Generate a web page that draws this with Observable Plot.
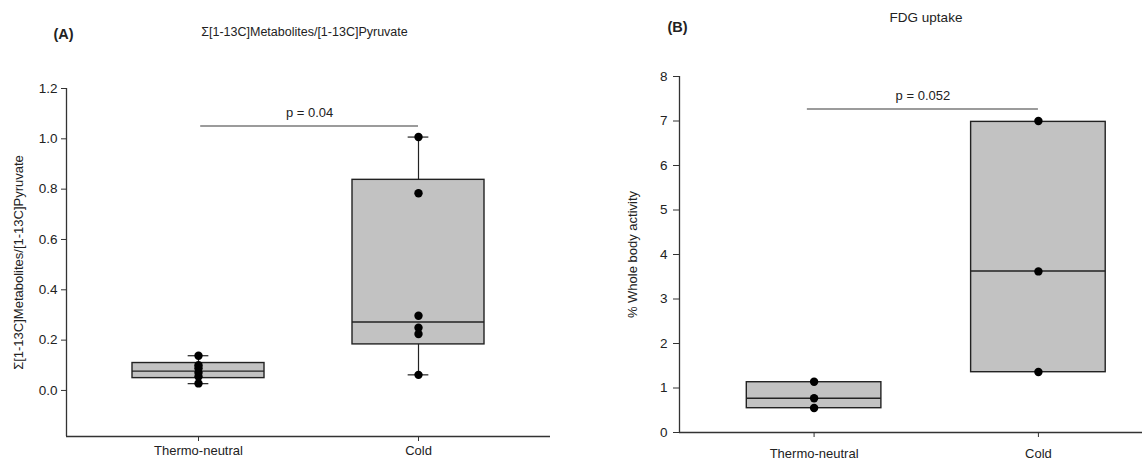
<!DOCTYPE html>
<html><head><meta charset="utf-8">
<script src="https://cdn.jsdelivr.net/npm/d3@7"></script>
<script src="https://cdn.jsdelivr.net/npm/@observablehq/plot@0.6"></script>
<style>
html,body{margin:0;padding:0;background:#fff;}
#wrap{position:relative;width:1142px;height:461px;overflow:hidden;font-family:"Liberation Sans",Arial,Helvetica,sans-serif;}
#wrap svg{position:absolute;top:0;}
</style></head><body><div id="wrap"></div>
<script>
// ---- shared categories ----
const groups = ["Thermo-neutral", "Cold"];

// ---- Panel A data ----
const aTitle = "Σ[1-13C]Metabolites/[1-13C]Pyruvate";
const aYLabel = "Σ[1-13C]Metabolites/[1-13C]Pyruvate";
const aThermoPoints = [0.138, 0.100, 0.088, 0.070, 0.055, 0.028];
const aColdPoints = [1.007, 0.784, 0.297, 0.249, 0.224, 0.062];
const aQ1 = [0.049, 0.183];
const aMedian = [0.077, 0.272];
const aQ3 = [0.109, 0.837];
const aWhiskerLow = [0.027, 0.062];
const aWhiskerHigh = [0.138, 1.007];
const aYTicks = [0, 0.2, 0.4, 0.6, 0.8, 1.0, 1.2];
const aYDomain = [-0.183, 1.2];
const aPLabel = "p = 0.04";
const aPLineY = 1.051;
const aPLineX = [1.01, 2.0];

// ---- Panel B data ----
const bTitle = "FDG uptake";
const bYLabel = "% Whole body activity";
const bThermoPoints = [1.14, 0.77, 0.55];
const bColdPoints = [7.00, 3.62, 1.36];
const bQ1 = [0.546, 1.355];
const bMedian = [0.77, 3.63];
const bQ3 = [1.13, 6.98];
const bYTicks = [0, 1, 2, 3, 4, 5, 6, 7, 8];
const bYDomain = [0, 8];
const bPLabel = "p = 0.052";
const bPLineY = 7.27;
const bPLineX = [0.97, 2.0];

const FONT = '"Liberation Sans", Arial, Helvetica, sans-serif';
const INK = "#222";

function boxes(q1, med, q3, lo, hi) {
  return groups.map((g, k) => ({g, i: k + 1, q1: q1[k], median: med[k], q3: q3[k], lo: lo ? lo[k] : null, hi: hi ? hi[k] : null}));
}
function points(lists) {
  return lists.flatMap((vals, k) => vals.map(v => ({i: k + 1, v})));
}

function panel(o) {
  const half = 0.3, cap = 0.047;
  const marks = [
    Plot.ruleX([o.xDomain[0]], {y1: o.yDomain[0], y2: o.yDomain[1], stroke: "#333", strokeWidth: 1.3}),
    Plot.ruleY([o.yDomain[0]], {x1: o.xDomain[0], x2: o.xDomain[1], stroke: "#333", strokeWidth: 1.3}),
    Plot.axisY({ticks: o.yTicks, tickFormat: o.yFormat, tickSize: o.yTickSize, tickPadding: o.yTickPadding, label: null, fontSize: 13.5, stroke: "#333"}),
    Plot.axisX({ticks: [1, 2], tickFormat: i => groups[i - 1], tickSize: 5, tickPadding: o.xTickPadding, label: null, fontSize: 13, stroke: "#333"})
  ];
  if (o.whiskers) {
    marks.push(
      Plot.ruleX(o.boxes, {x: "i", y1: "q3", y2: "hi", stroke: INK, strokeWidth: 1.2}),
      Plot.ruleX(o.boxes, {x: "i", y1: "lo", y2: "q1", stroke: INK, strokeWidth: 1.2}),
      Plot.ruleY(o.boxes, {x1: d => d.i - cap, x2: d => d.i + cap, y: "hi", stroke: INK, strokeWidth: 1.2}),
      Plot.ruleY(o.boxes, {x1: d => d.i - cap, x2: d => d.i + cap, y: "lo", stroke: INK, strokeWidth: 1.2})
    );
  }
  marks.push(
    Plot.rect(o.boxes, {x1: d => d.i - half, x2: d => d.i + half, y1: "q1", y2: "q3", fill: "#c2c2c2", stroke: INK, strokeWidth: 1.4}),
    Plot.ruleY(o.boxes, {x1: d => d.i - half, x2: d => d.i + half, y: "median", stroke: INK, strokeWidth: 1.4}),
    Plot.dot(o.points, {x: "i", y: "v", r: 4.2, fill: "#000", stroke: null}),
    Plot.ruleY([o.pY], {x1: o.pX[0], x2: o.pX[1], stroke: "#7a7a7a", strokeWidth: 1.5}),
    Plot.text([o.pLabel], {x: (o.pX[0] + o.pX[1]) / 2, y: o.pY, text: d => d, dy: -13, fontSize: 13, fill: INK}),
    Plot.text([o.tag], {text: d => d, frameAnchor: "top-left", textAnchor: "start", lineAnchor: "middle", dx: o.tagDx, dy: o.tagDy, fontSize: 14.5, fontWeight: "bold", fill: INK}),
    Plot.text([o.title], {text: d => d, frameAnchor: "top", textAnchor: "middle", lineAnchor: "middle", dx: o.titleDx, dy: o.titleDy, fontSize: o.titleSize, fill: INK}),
    Plot.text([o.ylabel], {text: d => d, frameAnchor: "left", rotate: -90, textAnchor: "middle", lineAnchor: "middle", dx: o.ylabelDx, fontSize: 13, fill: INK})
  );
  const svg = Plot.plot({
    width: o.width, height: 461,
    marginLeft: o.marginLeft, marginRight: o.marginRight, marginTop: o.marginTop, marginBottom: o.marginBottom,
    x: {type: "linear", domain: o.xDomain},
    y: {domain: o.yDomain},
    style: {fontFamily: FONT, color: INK, background: "transparent", overflow: "visible"},
    marks
  });
  svg.style.left = o.left + "px";
  return svg;
}

const wrap = document.getElementById("wrap");
wrap.appendChild(panel({
  left: 0, width: 600, marginLeft: 66, marginRight: 50, marginTop: 88, marginBottom: 25,
  xDomain: [0.4, 2.6], yDomain: aYDomain, yTicks: aYTicks, yFormat: d3.format(".1f"),
  yTickSize: 5, yTickPadding: 4, xTickPadding: 4,
  whiskers: true,
  boxes: boxes(aQ1, aMedian, aQ3, aWhiskerLow, aWhiskerHigh),
  points: points([aThermoPoints, aColdPoints]),
  pY: aPLineY, pX: aPLineX, pLabel: aPLabel,
  tag: "(A)", tagDx: -13, tagDy: -54,
  title: aTitle, titleSize: 12.5, titleDx: -4, titleDy: -57,
  ylabel: aYLabel, ylabelDx: -48
}));
wrap.appendChild(panel({
  left: 600, width: 542, marginLeft: 79, marginRight: 0, marginTop: 76, marginBottom: 29,
  xDomain: [0.4, 2.464], yDomain: bYDomain, yTicks: bYTicks, yFormat: d3.format("d"),
  yTickSize: 6, yTickPadding: 6, xTickPadding: 11,
  whiskers: false,
  boxes: boxes(bQ1, bMedian, bQ3, null, null),
  points: points([bThermoPoints, bColdPoints]),
  pY: bPLineY, pX: bPLineX, pLabel: bPLabel,
  tag: "(B)", tagDx: -12, tagDy: -49,
  title: bTitle, titleSize: 13.5, titleDx: 15, titleDy: -59,
  ylabel: bYLabel, ylabelDx: -47
}));
</script>
</body></html>
